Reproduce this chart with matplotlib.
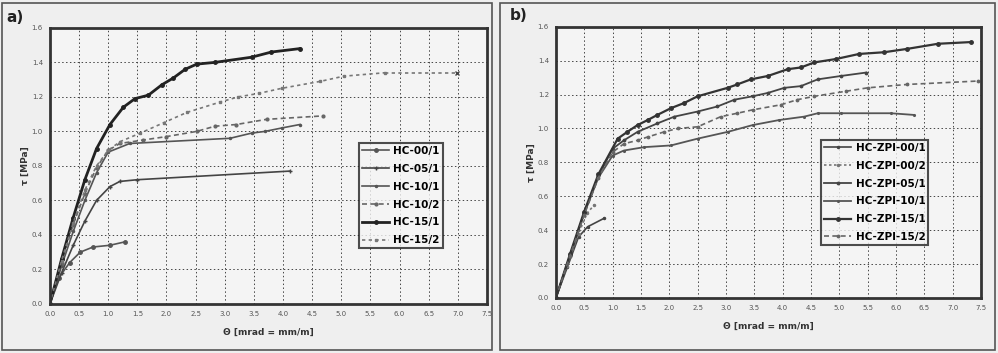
import matplotlib.pyplot as plt
from matplotlib.patches import Rectangle

# ---- panel a) data ----
a_00_1_x = [0.0, 0.15, 0.34, 0.52, 0.74, 1.03, 1.29]
a_00_1_y = [0.0, 0.15, 0.24, 0.30, 0.33, 0.34, 0.36]
a_05_1_x = [0.0, 0.2, 0.4, 0.6, 0.8, 1.03, 1.2, 1.5, 4.12]
a_05_1_y = [0.0, 0.18, 0.34, 0.48, 0.60, 0.68, 0.71, 0.72, 0.77]
a_10_1_x = [0.0, 0.2, 0.4, 0.6, 0.8, 1.0, 1.37, 3.09, 3.46, 3.69, 3.98, 4.29]
a_10_1_y = [0.0, 0.22, 0.42, 0.60, 0.76, 0.88, 0.93, 0.96, 0.99, 1.00, 1.02, 1.04]
a_10_2_x = [0.0, 0.2, 0.4, 0.6, 0.8, 1.0, 1.2, 1.6, 2.0, 2.52, 2.83, 3.2, 3.72, 4.69]
a_10_2_y = [0.0, 0.24, 0.46, 0.64, 0.79, 0.89, 0.93, 0.95, 0.97, 1.00, 1.03, 1.04, 1.07, 1.09]
a_15_1_x = [0.0, 0.2, 0.4, 0.6, 0.8, 1.03, 1.26, 1.46, 1.69, 1.92, 2.12, 2.32, 2.52, 2.83, 3.46, 3.8, 4.29]
a_15_1_y = [0.0, 0.26, 0.50, 0.72, 0.90, 1.04, 1.14, 1.19, 1.21, 1.27, 1.31, 1.36, 1.39, 1.40, 1.43, 1.46, 1.48]
a_15_2_x = [0.0, 0.2, 0.4, 0.6, 0.8, 1.0, 1.2, 1.55, 1.95, 2.35, 2.92, 3.23, 3.58, 3.98, 4.64, 5.04, 5.75, 6.98]
a_15_2_y = [0.0, 0.25, 0.47, 0.66, 0.80, 0.89, 0.94, 0.99, 1.05, 1.11, 1.17, 1.20, 1.22, 1.25, 1.29, 1.32, 1.34, 1.34]

# ---- panel b) data ----
b_00_1_x = [0.0, 0.2, 0.4, 0.56, 0.85]
b_00_1_y = [0.0, 0.18, 0.36, 0.42, 0.47]
b_00_2_x = [0.0, 0.2, 0.4, 0.55, 0.68]
b_00_2_y = [0.0, 0.19, 0.38, 0.50, 0.55]
b_05_1_x = [0.0, 0.25, 0.5, 0.75, 1.0, 1.2, 1.44, 1.79, 2.09, 2.5, 2.85, 3.15, 3.47, 3.74, 4.03, 4.32, 4.62, 5.03, 5.47]
b_05_1_y = [0.0, 0.25, 0.50, 0.72, 0.88, 0.93, 0.98, 1.03, 1.07, 1.10, 1.13, 1.17, 1.19, 1.21, 1.24, 1.25, 1.29, 1.31, 1.33]
b_10_1_x = [0.0, 0.25, 0.5, 0.75, 1.0, 1.2, 1.56, 2.03, 2.5, 3.03, 3.47, 3.94, 4.38, 4.62, 5.03, 5.91, 6.32]
b_10_1_y = [0.0, 0.25, 0.50, 0.71, 0.84, 0.87, 0.89, 0.90, 0.94, 0.98, 1.02, 1.05, 1.07, 1.09, 1.09, 1.09, 1.08]
b_15_1_x = [0.0, 0.25, 0.5, 0.75, 1.09, 1.26, 1.44, 1.62, 1.79, 2.03, 2.26, 2.5, 3.03, 3.2, 3.44, 3.74,
            4.09, 4.32, 4.56, 4.94, 5.35, 5.79, 6.2, 6.74, 7.32]
b_15_1_y = [0.0, 0.26, 0.51, 0.73, 0.94, 0.98, 1.02, 1.05, 1.08, 1.12, 1.15, 1.19, 1.24, 1.26, 1.29, 1.31,
            1.35, 1.36, 1.39, 1.41, 1.44, 1.45, 1.47, 1.50, 1.51]
b_15_2_x = [0.0, 0.25, 0.5, 0.75, 1.0, 1.2, 1.44, 1.62, 1.91, 2.15, 2.5, 2.91, 3.2, 3.47, 3.97, 4.26,
            4.56, 5.12, 5.5, 6.2, 7.44]
b_15_2_y = [0.0, 0.25, 0.49, 0.71, 0.86, 0.91, 0.93, 0.95, 0.98, 1.00, 1.01, 1.07, 1.09, 1.11, 1.14, 1.17,
            1.19, 1.22, 1.24, 1.26, 1.28]

x_ticks = [0.0, 0.5, 1.0, 1.5, 2.0, 2.5, 3.0, 3.5, 4.0, 4.5, 5.0, 5.5, 6.0, 6.5, 7.0, 7.5]
y_ticks = [0.0, 0.2, 0.4, 0.6, 0.8, 1.0, 1.2, 1.4, 1.6]

fig = plt.figure(figsize=(9.98, 3.53), dpi=100)
fig.patch.set_facecolor('#efefef')

# outer frames of both panels
fig.add_artist(Rectangle((2 / 998, 3 / 353), 490 / 998, 347 / 353, transform=fig.transFigure,
                         fill=False, edgecolor='#555555', lw=1.2))
fig.add_artist(Rectangle((500 / 998, 3 / 353), 495 / 998, 347 / 353, transform=fig.transFigure,
                         fill=False, edgecolor='#555555', lw=1.2))

ax1 = fig.add_axes([0.050, 0.139, 0.438, 0.782])
ax2 = fig.add_axes([0.557, 0.156, 0.426, 0.768])

for ax in (ax1, ax2):
    ax.set_facecolor('#f4f4f4')
    ax.set_xlim(0, 7.5)
    ax.set_ylim(0, 1.6)
    ax.set_xticks(x_ticks)
    ax.set_yticks(y_ticks)
    ax.set_xticklabels([f'{v:.1f}' for v in x_ticks], fontsize=5, color='#555555')
    ax.set_yticklabels([f'{v:.1f}' for v in y_ticks], fontsize=5, color='#555555')
    ax.tick_params(length=0, pad=5)
    ax.grid(True, color='#444444', ls=(0, (1.5, 2.5)), lw=0.7)
    for s in ax.spines.values():
        s.set_linewidth(2)
        s.set_color('#333333')
    ax.set_xlabel('Θ [mrad = mm/m]', fontsize=6.5, fontweight='bold', color='#333333', labelpad=8)
    ax.set_ylabel('τ [MPa]', fontsize=6.5, fontweight='bold', color='#333333', labelpad=1)

# panel a)
ax1.plot(a_00_1_x, a_00_1_y, color='#555555', lw=1.2, marker='o', ms=2.5, label='HC-00/1')
ax1.plot(a_05_1_x, a_05_1_y, color='#444444', lw=1.2, marker='+', ms=3, label='HC-05/1')
ax1.plot(a_10_1_x, a_10_1_y, color='#555555', lw=1.2, marker='.', ms=3, label='HC-10/1')
ax1.plot(a_10_2_x, a_10_2_y, color='#666666', lw=1.2, ls=(0, (3, 2)), marker='.', ms=4, label='HC-10/2')
ax1.plot(a_15_1_x, a_15_1_y, color='#222222', lw=2.0, marker='o', ms=2.5, label='HC-15/1')
ax1.plot(a_15_2_x[:-1], a_15_2_y[:-1], color='#777777', lw=1.2, ls=(0, (2, 2)), marker='s', ms=2,
         label='HC-15/2')
ax1.plot(a_15_2_x[-2:], a_15_2_y[-2:], color='#777777', lw=1.2, ls=(0, (2, 2)))
ax1.plot(a_15_2_x[-1:], a_15_2_y[-1:], color='#444444', marker='x', ms=3, ls='none')
leg1 = ax1.legend(loc='upper left', bbox_to_anchor=(0.707, 0.583), frameon=True,
                  fancybox=False, edgecolor='#222222', facecolor='#f4f4f4', handlelength=2.6,
                  handletextpad=0.4, labelspacing=0.75, borderpad=0.3, borderaxespad=0,
                  prop={'weight': 'bold', 'size': 7.5})
leg1.get_frame().set_linewidth(1.5)

# panel b)
ax2.plot(b_00_1_x, b_00_1_y, color='#444444', lw=1.2, marker='.', ms=3, label='HC-ZPI-00/1')
ax2.plot(b_00_2_x, b_00_2_y, color='#777777', lw=1.2, ls=(0, (1.5, 1.5)), marker='.', ms=3,
         label='HC-ZPI-00/2')
ax2.plot(b_05_1_x, b_05_1_y, color='#444444', lw=1.3, marker='.', ms=3.5, label='HC-ZPI-05/1')
ax2.plot(b_10_1_x, b_10_1_y, color='#555555', lw=1.3, marker='.', ms=2.5, label='HC-ZPI-10/1')
ax2.plot(b_15_1_x, b_15_1_y, color='#333333', lw=1.6, marker='o', ms=2.5, label='HC-ZPI-15/1')
ax2.plot(b_15_2_x, b_15_2_y, color='#666666', lw=1.2, ls=(0, (3, 2)), marker='.', ms=3.5,
         label='HC-ZPI-15/2')
leg2 = ax2.legend(loc='upper left', bbox_to_anchor=(0.624, 0.583), frameon=True,
                  fancybox=False, edgecolor='#222222', facecolor='#f4f4f4', handlelength=2.6,
                  handletextpad=0.4, labelspacing=0.75, borderpad=0.3, borderaxespad=0,
                  prop={'weight': 'bold', 'size': 7.5})
leg2.get_frame().set_linewidth(1.5)

fig.text(6 / 998, 1 - 22 / 353, 'a)', fontsize=11, fontweight='bold', color='#222222')
fig.text(510 / 998, 1 - 20 / 353, 'b)', fontsize=11, fontweight='bold', color='#222222')

fig.savefig('out.png', dpi=100, facecolor=fig.get_facecolor())
